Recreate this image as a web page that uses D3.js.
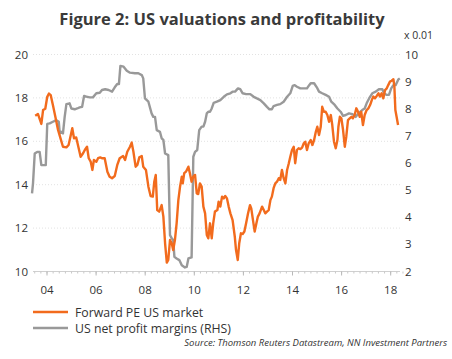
<!DOCTYPE html>
<html><head><meta charset="utf-8">
<script src="https://cdn.jsdelivr.net/npm/d3@7"></script>
<style>body{margin:0;background:#fff}svg{display:block}</style>
</head><body>
<svg id="c" width="452" height="359"></svg>
<script>
const title = "Figure 2: US valuations and profitability";
const peYears = [2003.52,2003.63,2003.77,2003.84,2003.93,2004.01,2004.08,2004.15,2004.24,2004.34,2004.45,2004.56,2004.65,2004.79,2004.88,2004.97,2005.03,2005.10,2005.19,2005.26,2005.37,2005.47,2005.54,2005.63,2005.70,2005.78,2005.85,2005.91,2006.01,2006.08,2006.17,2006.24,2006.35,2006.46,2006.55,2006.65,2006.76,2006.86,2006.96,2007.10,2007.18,2007.27,2007.38,2007.45,2007.52,2007.61,2007.68,2007.76,2007.86,2007.92,2008.03,2008.13,2008.22,2008.31,2008.37,2008.43,2008.49,2008.57,2008.67,2008.74,2008.81,2008.88,2008.94,2009.01,2009.08,2009.14,2009.21,2009.28,2009.35,2009.42,2009.49,2009.53,2009.59,2009.66,2009.76,2009.82,2009.89,2009.96,2010.03,2010.10,2010.16,2010.23,2010.30,2010.37,2010.44,2010.51,2010.57,2010.64,2010.71,2010.77,2010.84,2010.94,2010.99,2011.06,2011.13,2011.20,2011.26,2011.33,2011.40,2011.47,2011.56,2011.65,2011.70,2011.77,2011.83,2011.90,2011.97,2012.04,2012.11,2012.19,2012.27,2012.32,2012.39,2012.46,2012.53,2012.59,2012.66,2012.76,2012.83,2012.89,2012.96,2013.03,2013.10,2013.16,2013.23,2013.30,2013.37,2013.44,2013.50,2013.57,2013.64,2013.71,2013.78,2013.85,2013.91,2013.98,2014.05,2014.11,2014.18,2014.25,2014.32,2014.39,2014.46,2014.52,2014.59,2014.66,2014.74,2014.81,2014.88,2014.95,2015.01,2015.08,2015.15,2015.21,2015.28,2015.35,2015.42,2015.49,2015.56,2015.62,2015.69,2015.76,2015.83,2015.87,2015.93,2015.99,2016.06,2016.13,2016.19,2016.26,2016.33,2016.40,2016.46,2016.53,2016.60,2016.67,2016.74,2016.80,2016.87,2016.94,2017.02,2017.09,2017.16,2017.23,2017.29,2017.36,2017.43,2017.50,2017.56,2017.63,2017.70,2017.77,2017.84,2017.90,2017.97,2018.04,2018.11,2018.15,2018.19,2018.24,2018.30];
const peValues = [17.18,17.26,16.8,17.44,17.5,18.05,18.2,18.13,17.67,17.13,16.52,16.1,15.75,15.72,15.83,16.29,16.6,16.14,16.18,15.83,15.29,15.45,15.6,15.75,15.22,15.06,14.68,15.14,15.06,15.22,15.26,15.22,15.22,14.6,14.37,14.3,14.4,14.9,15.22,15.32,15.14,15.52,15.75,15.94,15.52,14.83,14.91,15.26,15.32,14.83,14.68,13.91,13.48,13.45,14.14,14.45,12.83,12.76,13.06,12.53,11.3,10.41,10.53,11.45,11.3,10.99,11.45,12.22,13.29,13.91,14.37,14.06,14.53,14.6,14.83,14.53,14.14,14.37,14.45,13.6,13.57,14.06,13.91,12.99,12.68,11.68,11.53,12.22,11.53,12.22,12.76,12.83,13.22,12.99,13.45,13.37,13.48,13.37,12.99,12.68,12.37,11.6,10.99,10.53,11.3,11.76,11.73,11.84,12.22,12.68,13.06,12.91,12.37,11.84,12.22,12.53,12.68,12.99,12.83,12.68,12.76,12.83,13.29,13.45,13.84,14.06,14.14,14.3,14.22,14.68,14.3,14.06,14.68,14.99,15.29,15.6,15.75,14.99,15.6,15.68,15.64,15.71,15.91,15.98,15.6,15.91,16.06,15.83,16.06,16.44,16.67,16.29,16.67,17.59,17.36,17.36,17.21,16.9,17.21,16.75,15.98,15.68,16.06,16.67,17.13,17.06,16.52,15.75,16.21,16.98,17.06,17.13,17.06,17.21,17.52,17.36,17.13,17.36,16.75,17.21,17.44,17.52,17.67,17.9,18.06,17.98,18.09,18.21,18.06,18.21,17.98,18.36,18.44,18.59,18.75,18.79,18.86,18.52,17.44,17.13,16.75];
const marginYears = [2003.39,2003.43,2003.50,2003.60,2003.70,2003.77,2003.95,2004.01,2004.11,2004.24,2004.38,2004.48,2004.52,2004.58,2004.65,2004.72,2004.79,2004.92,2004.99,2005.13,2005.23,2005.33,2005.43,2005.51,2005.60,2005.74,2005.87,2006.01,2006.15,2006.24,2006.37,2006.51,2006.65,2006.76,2006.86,2006.93,2006.99,2007.12,2007.25,2007.38,2007.58,2007.72,2007.86,2007.92,2007.99,2008.13,2008.26,2008.33,2008.40,2008.47,2008.60,2008.67,2008.74,2008.81,2008.94,2009.01,2009.08,2009.14,2009.19,2009.28,2009.39,2009.49,2009.62,2009.69,2009.76,2009.89,2009.96,2010.03,2010.12,2010.20,2010.30,2010.37,2010.44,2010.51,2010.57,2010.64,2010.71,2010.79,2010.92,2011.06,2011.20,2011.33,2011.47,2011.56,2011.66,2011.78,2011.87,2011.97,2012.11,2012.28,2012.42,2012.55,2012.69,2012.83,2012.96,2013.06,2013.16,2013.23,2013.37,2013.50,2013.64,2013.78,2013.91,2014.01,2014.09,2014.18,2014.32,2014.59,2014.68,2014.74,2014.88,2014.99,2015.08,2015.21,2015.35,2015.49,2015.58,2015.72,2015.83,2015.96,2016.06,2016.17,2016.30,2016.44,2016.57,2016.71,2016.84,2016.94,2017.02,2017.12,2017.25,2017.39,2017.52,2017.66,2017.73,2017.84,2017.93,2018.02,2018.11,2018.20,2018.31,2018.37];
const marginValues = [4.88,5.25,6.35,6.41,6.41,5.92,5.92,7.44,7.46,7.52,7.58,7.52,7.09,7.15,7.09,7.7,8.17,8.2,8.01,7.98,8.01,8.05,8.07,8.47,8.45,8.42,8.42,8.57,8.59,8.69,8.72,8.69,8.63,8.79,8.91,8.91,9.58,9.55,9.4,9.33,9.31,9.31,9.24,9.12,8.38,8.26,7.83,7.7,7.7,7.21,7.15,6.91,6.85,6.35,6.29,3.34,3.22,3.16,2.54,2.48,2.42,2.23,2.15,2.17,2.48,2.52,6.23,6.41,6.48,7.21,7.34,7.34,7.52,7.83,7.89,7.89,8.01,8.22,8.26,8.32,8.44,8.53,8.57,8.63,8.63,8.75,8.72,8.57,8.54,8.54,8.44,8.38,8.32,8.2,8.07,7.98,7.98,8.1,8.14,8.17,8.26,8.44,8.57,8.84,8.87,8.81,8.75,8.75,8.87,8.94,8.94,8.79,8.63,8.57,8.51,8.44,8.26,8.14,8.01,7.89,7.74,7.77,7.83,7.8,7.7,7.85,7.95,8.01,8.2,8.38,8.57,8.63,8.72,8.72,8.57,8.51,8.51,8.75,8.87,8.87,9.08,9.12];
const xTickYears = [2004,2006,2008,2010,2012,2014,2016,2018];
const xTickLabels = ["04","06","08","10","12","14","16","18"];
const leftTicks = [10,12,14,16,18,20];
const rightTicks = [2,3,4,5,6,7,8,9,10];
const seriesNames = ["Forward PE US market","US net profit margins (RHS)"];
const rightUnit = "x 0.01";
const source = "Source: Thomson Reuters Datastream, NN Investment Partners";

const svg = d3.select("#c");
const font = "'Open Sans', sans-serif";
const txt = "#333";
const orange = "#f26b1d", gray = "#999999";
const L = 33, R = 400, T = 54.5, B = 271.5;

const x = d3.scaleLinear().domain([2004 - (47-32)/24.55, 2004 + (399.7-47)/24.55]).range([32, 399.7]);
const yL = d3.scaleLinear().domain([10,20]).range([B,T]);
const yR = d3.scaleLinear().domain([2,10]).range([B,T]);

svg.append("text").attr("x",222).attr("y",25).attr("text-anchor","middle")
  .attr("font-family",font).attr("font-weight","bold").attr("font-size",16.5).attr("fill","#3a3a3a").text(title);

// gridlines
svg.append("g").selectAll("line").data(leftTicks.filter(d=>d>10)).join("line")
  .attr("x1",L).attr("x2",R).attr("y1",d=>yL(d)).attr("y2",d=>yL(d))
  .attr("stroke","#e2e2e2").attr("stroke-width",1).attr("stroke-dasharray","1,2");

// bottom axis
const xa = svg.append("g").attr("transform",`translate(0,${B})`);
xa.append("line").attr("x1",L).attr("x2",R).attr("stroke","#d0d0d0");
const quarters = d3.range(2003.5, 2018.6, 0.25);
xa.selectAll("line.m").data(quarters).join("line").attr("class","m")
  .attr("x1",d=>x(d)).attr("x2",d=>x(d)).attr("y1",0).attr("y2",2).attr("stroke","#c8c8c8");
xa.selectAll("line.M").data(xTickYears).join("line").attr("class","M")
  .attr("x1",d=>x(d)).attr("x2",d=>x(d)).attr("y1",0).attr("y2",4).attr("stroke","#b8b8b8");
xa.selectAll("text").data(xTickYears).join("text")
  .attr("x",d=>x(d)).attr("y",22).attr("text-anchor","middle")
  .attr("font-family",font).attr("font-size",11.5).attr("fill",txt).text((d,i)=>xTickLabels[i]);

// left labels
svg.append("g").selectAll("text").data(leftTicks).join("text")
  .attr("x",28).attr("y",d=>yL(d)+4).attr("text-anchor","end")
  .attr("font-family",font).attr("font-size",11.5).attr("fill",txt).text(d=>d);
// right labels
svg.append("g").selectAll("text").data(rightTicks).join("text")
  .attr("x",405).attr("y",d=>yR(d)+4).attr("text-anchor","start")
  .attr("font-family",font).attr("font-size",11.5).attr("fill",txt).text(d=>d);
svg.append("text").attr("x",404).attr("y",39).attr("font-family",font).attr("font-size",10.5).attr("fill",txt).text(rightUnit);

const pe = peYears.map((d,i)=>[d,peValues[i]]);
const mg = marginYears.map((d,i)=>[d,marginValues[i]]);
svg.append("path").datum(mg).attr("fill","none").attr("stroke",gray).attr("stroke-width",2.4).attr("stroke-linejoin","round")
  .attr("d",d3.line().x(d=>x(d[0])).y(d=>yR(d[1])));
svg.append("path").datum(pe).attr("fill","none").attr("stroke",orange).attr("stroke-width",2.4).attr("stroke-linejoin","round")
  .attr("d",d3.line().x(d=>x(d[0])).y(d=>yL(d[1])));

// legend
const lg = svg.append("g");
[orange,gray].forEach((c,i)=>{
  const yy = 312 + i*16;
  lg.append("line").attr("x1",33).attr("x2",68).attr("y1",yy).attr("y2",yy).attr("stroke",c).attr("stroke-width",2.4);
  lg.append("text").attr("x",75).attr("y",yy+4.5).attr("font-family",font).attr("font-size",12.3).attr("fill",txt).text(seriesNames[i]);
});
svg.append("text").attr("x",447).attr("y",346).attr("text-anchor","end").attr("font-family",font)
  .attr("font-style","italic").attr("font-size",9.5).attr("fill",txt).text(source);
</script>
</body></html>
